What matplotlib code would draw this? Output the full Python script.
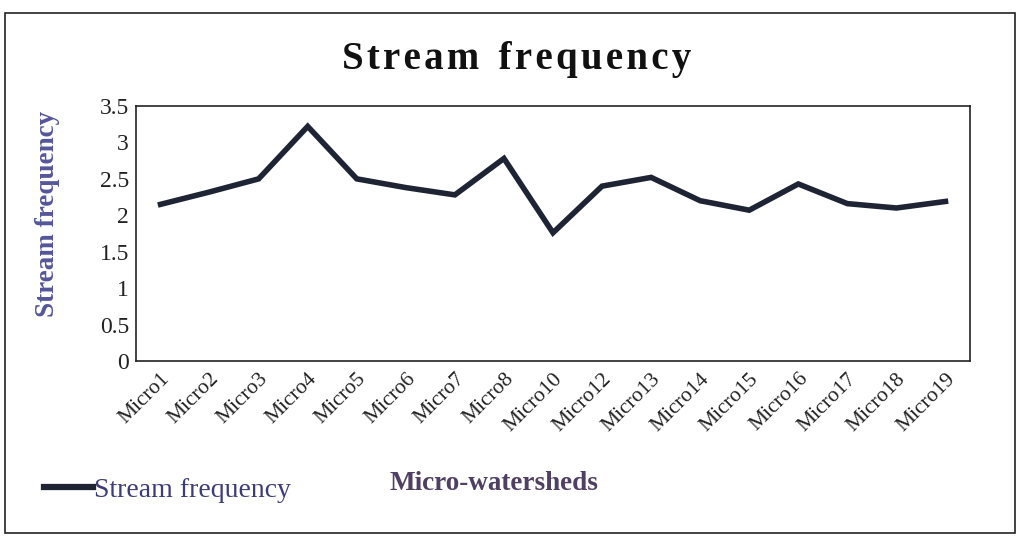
import matplotlib
matplotlib.use("Agg")
import matplotlib.pyplot as plt
from matplotlib.patches import Rectangle

categories = ["Micro1", "Micro2", "Micro3", "Micro4", "Micro5", "Micro6", "Micro7",
              "Micro8", "Micro10", "Micro12", "Micro13", "Micro14", "Micro15",
              "Micro16", "Micro17", "Micro18", "Micro19"]
stream_frequency = [2.15, 2.32, 2.50, 3.22, 2.50, 2.38, 2.28, 2.78, 1.76, 2.40,
                    2.52, 2.20, 2.07, 2.43, 2.16, 2.10, 2.19]
y_ticks = [0, 0.5, 1, 1.5, 2, 2.5, 3, 3.5]
y_tick_labels = ["0", "0.5", "1", "1.5", "2", "2.5", "3", "3.5"]

serif = ["Liberation Serif", "DejaVu Serif"]
plt.rcParams["font.family"] = serif

W, H = 1021, 536
fig = plt.figure(figsize=(W / 100, H / 100), dpi=100)
fig.patch.set_facecolor("white")

# outer chart border
fig.add_artist(Rectangle((5 / W, 1 - 533 / H), 1010 / W, 520 / H,
                         transform=fig.transFigure, fill=False,
                         edgecolor="#222222", linewidth=1.2))

ax = fig.add_axes([136 / W, 1 - 361 / H, 834 / W, 255 / H])
x = list(range(len(categories)))
ax.plot(x, stream_frequency, color="#1e2434", linewidth=4.0,
        solid_joinstyle="miter", label="Stream frequency")

ax.set_xlim(-0.5, len(categories) - 0.5)
ax.set_ylim(0, 3.5)
ax.set_yticks(y_ticks)
ax.set_yticklabels(y_tick_labels, fontsize=17, color="#222222")
ax.set_xticks(x)
ax.set_xticklabels(categories, rotation=45, ha="right", rotation_mode="anchor",
                   fontsize=15.5, color="#222222")
ax.tick_params(axis="both", length=0)
ax.tick_params(axis="y", pad=5)
ax.tick_params(axis="x", pad=6)
for s in ax.spines.values():
    s.set_color("#222222")
    s.set_linewidth(1.2)

title = "\u200a".join("Stream") + "\u2002" + "\u200a".join("frequency")
fig.text(517 / W, 1 - 59 / H, title, ha="center", va="center",
         fontsize=28, fontweight="bold", color="#111111")

fig.text(47 / W, 1 - 214 / H, "Stream frequency", rotation=90, ha="center",
         va="center", fontsize=19.5, fontweight="bold", color="#55559a")

fig.text(494 / W, 1 - 484 / H, "Micro-watersheds", ha="center", va="center",
         fontsize=19.5, fontweight="bold", color="#4e3f63")

leg = ax.legend(loc="center left", bbox_to_anchor=(44 / W, 1 - 490 / H),
                bbox_transform=fig.transFigure, frameon=False, fontsize=20,
                handlelength=1.75, handletextpad=0.05, borderaxespad=0,
                borderpad=0)
for t in leg.get_texts():
    t.set_color("#3c3c78")
for h in leg.get_lines():
    h.set_linewidth(4.5)

fig.savefig("out.png", dpi=100, facecolor="white")
